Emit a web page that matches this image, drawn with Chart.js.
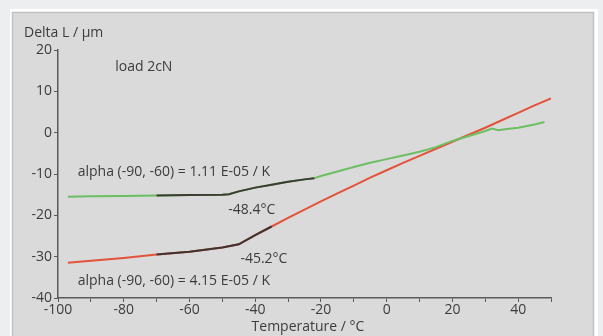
<!DOCTYPE html>
<html>
<head>
<meta charset="utf-8">
<script src="https://cdn.jsdelivr.net/npm/chart.js@4/dist/chart.umd.min.js"></script>
<style>
  html, body { margin: 0; padding: 0; background: #eceef0; }
  #wrap { width: 603px; height: 336px; }
</style>
</head>
<body>
<div id="wrap"><canvas id="dil"></canvas></div>
<script>
// Temperature (°C) and change of length (µm)
const greenX = [-97, -90, -80, -70, -60, -50, -48, -45, -40, -35, -30, -25, -22, -20, -15, -10, -5, 0, 5, 10, 15, 20, 25, 30, 32, 34, 36, 40, 45, 48];
const greenY = [-15.5, -15.4, -15.3, -15.2, -15.1, -15.0, -14.9, -14.2, -13.3, -12.6, -11.9, -11.3, -11.0, -10.5, -9.4, -8.3, -7.3, -6.4, -5.5, -4.6, -3.5, -2.0, -0.8, 0.4, 1.0, 0.6, 0.8, 1.2, 2.0, 2.6];

const redX = [-97, -90, -80, -70, -60, -50, -45, -40, -35, -30, -25, -20, -15, -10, -5, 0, 5, 10, 15, 20, 25, 30, 35, 40, 45, 50];
const redY = [-31.5, -31.0, -30.3, -29.5, -28.8, -27.8, -27.0, -24.8, -22.7, -20.6, -18.6, -16.6, -14.7, -12.8, -10.9, -9.1, -7.3, -5.6, -3.9, -2.2, -0.5, 1.2, 3.0, 4.8, 6.6, 8.3];

// ranges of the tangent fits drawn in black
const greenFit = [-70, -22];
const redFit = [-70, -33];

const xTicks = [-100, -80, -60, -40, -20, 0, 20, 40];
const yTicks = [-40, -30, -20, -10, 0, 10, 20];

const notes = [
  { x: -94, y: -9.4, text: 'alpha (-90, -60) = 1.11 E-05 / K' },
  { x: -48.2, y: -18.6, text: '-48.4°C' },
  { x: -44.5, y: -30.5, text: '-45.2°C' },
  { x: -94, y: -35.8, text: 'alpha (-90, -60) = 4.15 E-05 / K' },
  { x: -82.6, y: 16, text: 'load 2cN' }
];

const toPts = (xs, ys) => xs.map((x, i) => ({ x: x, y: ys[i] }));
const inRange = (pts, r) => pts.filter(p => p.x >= r[0] && p.x <= r[1]);

const greenPts = toPts(greenX, greenY);
const redPts = toPts(redX, redY);

const panel = {
  id: 'panel',
  beforeDraw(chart) {
    const c = chart.ctx;
    c.save();
    c.fillStyle = '#ffffff';
    c.fillRect(10, 9, 588, 330);
    c.fillStyle = '#dadada';
    c.fillRect(12, 12, 582, 330);
    c.strokeStyle = '#c2c2c2';
    c.lineWidth = 1.5;
    c.strokeRect(12.5, 12.5, 581, 330);
    c.restore();
  },
  afterDraw(chart) {
    const c = chart.ctx;
    const xs = chart.scales.x, ys = chart.scales.y;
    c.save();
    c.fillStyle = '#3c3c3c';
    c.font = '14px "Open Sans"';
    c.textBaseline = 'middle';
    c.textAlign = 'left';
    notes.forEach(n => {
      c.fillText(n.text, xs.getPixelForValue(n.x), ys.getPixelForValue(n.y));
    });
    c.fillText('Delta L / µm', 24, 33);
    c.textAlign = 'center';
    c.fillText('Temperature / °C', 308, 327);
    c.restore();
  }
};

new Chart(document.getElementById('dil'), {
  type: 'scatter',
  data: {
    datasets: [
      { data: greenPts, order: 2, showLine: true, borderColor: '#6cbf62', borderWidth: 2, pointRadius: 0, tension: 0 },
      { data: redPts, order: 2, showLine: true, borderColor: '#e2533a', borderWidth: 2, pointRadius: 0, tension: 0 },
      { data: inRange(greenPts, greenFit), order: 1, showLine: true, borderColor: '#3c3c34', borderWidth: 2, pointRadius: 0 },
      { data: inRange(redPts, redFit), order: 1, showLine: true, borderColor: '#3e3432', borderWidth: 2, pointRadius: 0 }
    ]
  },
  options: {
    responsive: true,
    maintainAspectRatio: false,
    animation: false,
    layout: { padding: { left: 0, right: 52, top: 50, bottom: 0 } },
    plugins: { legend: { display: false }, tooltip: { enabled: false } },
    scales: {
      x: {
        type: 'linear', min: -100, max: 50,
        afterFit: s => { s.height = 38; },
        afterBuildTicks: s => { s.ticks = [-100, -90, -80, -70, -60, -50, -40, -30, -20, -10, 0, 10, 20, 30, 40, 50].map(v => ({ value: v })); },
        border: { display: true, color: '#5a5a5a', width: 1.5 },
        grid: { drawOnChartArea: false, drawTicks: true, tickLength: 4, color: '#5a5a5a' },
        ticks: {
          color: '#3c3c3c', font: { family: 'Open Sans', size: 14 }, padding: 0,
          maxRotation: 0, autoSkip: false,
          callback: v => xTicks.includes(v) ? String(v) : ''
        }
      },
      y: {
        type: 'linear', min: -40, max: 20,
        afterFit: s => { s.width = 58; },
        afterBuildTicks: s => { s.ticks = yTicks.map(v => ({ value: v })); },
        border: { display: true, color: '#5a5a5a', width: 1.5 },
        grid: { drawOnChartArea: false, drawTicks: true, tickLength: 4, color: '#5a5a5a' },
        ticks: { color: '#3c3c3c', font: { family: 'Open Sans', size: 14 }, padding: 2 }
      }
    }
  },
  plugins: [panel]
});
</script>
</body>
</html>
